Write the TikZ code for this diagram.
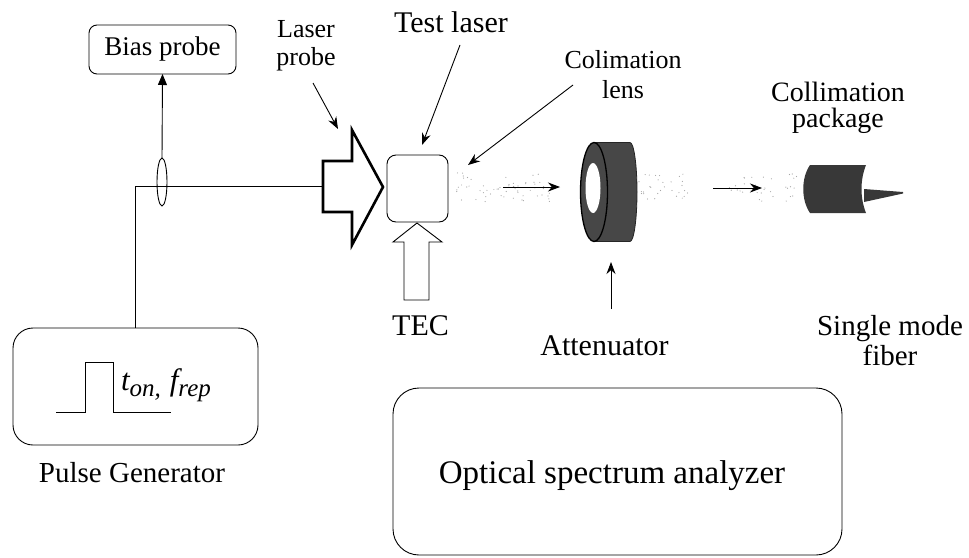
\documentclass[tikz,border=0pt]{standalone}
\usepackage{fontspec}
\setmainfont{Liberation Serif}
\usetikzlibrary{arrows.meta,shapes.geometric}
\begin{document}
\begin{tikzpicture}[x=1pt,y=-1pt,
  every node/.style={inner sep=0pt,outer sep=0pt},
  box/.style={draw,line width=0.9pt,rounded corners=#1,fill=white},
  wire/.style={line width=0.9pt},
  lead/.style={line width=0.9pt,-{Stealth[length=12pt,width=9pt]}},
  hollow/.style={draw,fill=white,line join=miter},
  dark/.style={fill=black!72},
  haze/.style={fill=black!35},
]
\useasboundingbox (0,0) rectangle (969,557);

% ---------- instrument boxes ----------
\node[box=8,minimum width=147pt,minimum height=49pt,
      font=\fontsize{27}{27}\selectfont] (bias) at (162.5,49.5) {Bias probe};
\node[box=9,minimum width=61pt,minimum height=67pt] (laser) at (417.5,188.5) {};
\node[box=20,minimum width=245pt,minimum height=117pt] (pulse) at (135.5,386.5) {};
\node[box=26,minimum width=449pt,minimum height=167pt] (osa) at (617.5,471.5) {};

% ---------- bias line with current tap ----------
\coordinate (probein) at (323,186);
\draw[wire] (pulse.north) |- (probein);
\node[draw,ellipse,line width=0.9pt,minimum width=10pt,minimum height=48pt] (tap) at (162,182) {};
\draw[wire,-{Triangle[length=11pt,width=9pt]}] (tap.north) -- (bias.south);

% ---------- laser probe (thick hollow arrow) ----------
\draw[hollow,line width=2.6pt] (323,161) -- (352,161) -- (352,130) -- (383,187)
  -- (352,245) -- (352,212) -- (323,212) -- cycle;

% ---------- TEC (hollow arrow) ----------
\draw[hollow,line width=0.9pt] (404,300) -- (404,242) -- (393,242) -- (417,223)
  -- (442,242) -- (429,242) -- (429,300) -- cycle;

% ---------- beam haze ----------
\pgfmathsetseed{1234}
\foreach \xa/\xb/\n in {456/476/14,480/550/45,638/690/30,728/800/35}{
  \foreach \k in {1,...,\n}{
    \pgfmathsetmacro\px{\xa+rnd*(\xb-\xa)}
    \pgfmathsetmacro\py{187+(rnd-0.5)*30}
    \fill[haze] (\px,\py) circle (0.6pt);
  }
}

% ---------- attenuator disk ----------
\filldraw[dark,draw=black!85,line width=0.8pt] (594,142.5) -- (630,142.5)
  arc[start angle=90,end angle=-90,x radius=7pt,y radius=49.5pt] -- (594,241.5) -- cycle;
\filldraw[dark,draw=black,line width=1.3pt] (594,192) ellipse [x radius=13.5pt,y radius=49.5pt];
\fill[white] (593,188) ellipse [x radius=7.5pt,y radius=25pt];

% ---------- collimation package and fibre ----------
\fill[black!78] (810,165) -- (866,165) .. controls (860,180) and (860,198) .. (866,213)
  -- (810,213) .. controls (801,200) and (801,178) .. (810,165);
\fill[black!78] (864,189) -- (903,192) -- (903,193.5) -- (864,202) -- cycle;

% ---------- pulse waveform ----------
\draw[wire] (56,412) -- (85,412) -- (85,362) -- (113,362) -- (113,412) -- (171,412);
\node[anchor=base west,font=\fontsize{31}{31}\selectfont\itshape] (tf) at (121,390)
  {t\raisebox{-6pt}{\fontsize{25}{25}\selectfont on,}\hspace{9pt}f\raisebox{-6pt}{\fontsize{25}{25}\selectfont rep}};

% ---------- labels ----------
\node[anchor=base,font=\fontsize{33}{33}\selectfont] (osatext) at (612,483) {Optical spectrum analyzer};
\node[anchor=base,font=\fontsize{29}{29}\selectfont] (pgtext) at (132,482) {Pulse Generator};
\node[anchor=base,font=\fontsize{30}{30}\selectfont] (tectext) at (420.5,335) {TEC};
\node[anchor=base,font=\fontsize{30}{30}\selectfont] (atttext) at (604.5,355) {Attenuator};
\node[anchor=north,align=center,font=\fontsize{29}{30}\selectfont] (smf) at (890,315) {Single mode\\fiber};
\node[anchor=north,align=center,font=\fontsize{28}{26}\selectfont] (cpk) at (838,82) {Collimation\\package};
\node[anchor=base,font=\fontsize{30}{30}\selectfont] (tl) at (451,32) {Test laser};
\node[anchor=north,align=center,font=\fontsize{26}{28}\selectfont] (lp) at (306,20) {Laser\\probe};
\node[anchor=north,align=center,font=\fontsize{26}{30}\selectfont] (cl) at (623,50) {Colimation\\lens};

% ---------- leader and beam arrows ----------
\coordinate (lpa) at (313,83);   \coordinate (lpb) at (338,129);
\coordinate (tla) at (460,45);   \coordinate (tlb) at (422,145);
\coordinate (cla) at (573,85);   \coordinate (clb) at (468,165);
\coordinate (b1a) at (503,187);  \coordinate (b1b) at (560,187);
\coordinate (b2a) at (713,188);  \coordinate (b2b) at (762,188);
\coordinate (ata) at (611,309);  \coordinate (atb) at (611,262);
\draw[lead] (lpa) -- (lpb);
\draw[lead] (tla) -- (tlb);
\draw[lead] (cla) -- (clb);
\draw[lead] (b1a) -- (b1b);
\draw[lead] (b2a) -- (b2b);
\draw[lead] (ata) -- (atb);
\end{tikzpicture}
\end{document}
